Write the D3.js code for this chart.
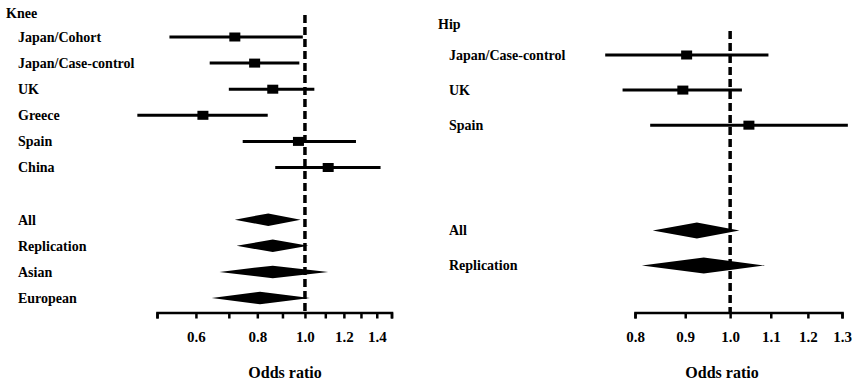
<!DOCTYPE html>
<html>
<head>
<meta charset="utf-8">
<script src="https://cdn.jsdelivr.net/npm/d3@7"></script>
<style>
  body { margin: 0; background: #fff; }
</style>
</head>
<body>
<svg id="chart" width="852" height="382"></svg>
<script>
// ************************** DATA **************************//
var kneeStudies = ["Japan/Cohort", "Japan/Case-control", "UK", "Greece", "Spain", "China"];
var kneeOR   = [0.72, 0.79, 0.86, 0.62, 0.97, 1.115];
var kneeLow  = [0.53, 0.64, 0.70, 0.456, 0.747, 0.87];
var kneeHigh = [0.99, 0.974, 1.045, 0.84, 1.27, 1.425];

var kneePooled     = ["All", "Replication", "Asian", "European"];
var kneePooledOR   = [0.842, 0.86, 0.86, 0.81];
var kneePooledLow  = [0.72, 0.726, 0.67, 0.646];
var kneePooledHigh = [0.98, 1.016, 1.115, 1.024];

var kneeTicks = [0.5, 0.6, 0.7, 0.8, 0.9, 1.0, 1.1, 1.2, 1.3, 1.4, 1.5];
var kneeTickLabels = ["0.6", "0.8", "1.0", "1.2", "1.4"];

var hipStudies = ["Japan/Case-control", "UK", "Spain"];
var hipOR   = [0.903, 0.895, 1.045];
var hipLow  = [0.746, 0.777, 0.829];
var hipHigh = [1.094, 1.028, 1.318];

var hipPooled     = ["All", "Replication"];
var hipPooledOR   = [0.925, 0.94];
var hipPooledLow  = [0.834, 0.813];
var hipPooledHigh = [1.022, 1.085];

var hipTicks = [0.8, 0.9, 1.0, 1.1, 1.2, 1.3];
var hipTickLabels = ["0.8", "0.9", "1.0", "1.1", "1.2", "1.3"];

// ************************** DRAW **************************//
var FONT = "Liberation Serif";
var svg = d3.select("#chart");
svg.append("rect").attr("width", 852).attr("height", 382).attr("fill", "#fff");

var axisY = 312.5;

function label(sel) {
  return sel.attr("font-family", FONT).attr("font-weight", "bold").attr("fill", "#000");
}

function drawPanel(p) {
  var g = svg.append("g");

  var x = d3.scaleLog().domain(p.domain).range(p.xRange);
  var y = d3.scaleLinear().domain([0, p.lastRow]).range(p.yRange);

  g.append("text")
    .attr("x", p.titleX).attr("y", p.titleY).attr("dy", "0.35em")
    .attr("font-size", 14)
    .call(label)
    .text(p.title);

  var studies = p.studies.map(function(name, i) {
    return {name: name, or: p.or[i], lo: p.lo[i], hi: p.hi[i], row: i};
  });
  var pooled = p.pooled.map(function(name, i) {
    return {name: name, or: p.pooledOR[i], lo: p.pooledLo[i], hi: p.pooledHi[i], row: i + p.pooledStart};
  });

  g.selectAll(".lab")
    .data(studies.concat(pooled))
    .join("text")
    .attr("x", p.labelX)
    .attr("y", d => y(d.row))
    .attr("dy", "0.35em")
    .attr("font-size", 14)
    .call(label)
    .text(d => d.name);

  g.selectAll(".ci")
    .data(studies)
    .join("line")
    .attr("x1", d => x(d.lo)).attr("x2", d => x(d.hi))
    .attr("y1", d => y(d.row)).attr("y2", d => y(d.row))
    .attr("stroke", "#000").attr("stroke-width", 3);

  g.selectAll(".sq")
    .data(studies)
    .join("rect")
    .attr("x", d => x(d.or) - 5.5).attr("y", d => y(d.row) - 4.5)
    .attr("width", 11).attr("height", 9)
    .attr("fill", "#000");

  g.selectAll(".dm")
    .data(pooled)
    .join("path")
    .attr("d", function(d) {
      var cy = y(d.row), h = p.diamondH / 2;
      return "M" + x(d.lo) + "," + cy + "L" + x(d.or) + "," + (cy - h) +
             "L" + x(d.hi) + "," + cy + "L" + x(d.or) + "," + (cy + h) + "Z";
    })
    .attr("fill", "#000");

  // reference line at OR = 1
  g.append("line")
    .attr("x1", x(1)).attr("x2", x(1))
    .attr("y1", p.refTop).attr("y2", axisY)
    .attr("stroke", "#000").attr("stroke-width", 3.5)
    .attr("stroke-dasharray", "8,4");

  // axis
  var fmt = d3.format(".1f");
  var axis = g.append("g")
    .attr("transform", "translate(0," + axisY + ")")
    .call(d3.axisBottom(x).tickValues(p.ticks).tickSize(6).tickSizeOuter(6).tickPadding(13)
      .tickFormat(d => p.tickLabels.indexOf(fmt(d)) >= 0 ? fmt(d) : ""));
  axis.attr("font-family", FONT).attr("font-size", 15);
  axis.select(".domain").attr("stroke-width", 2.5);
  axis.selectAll(".tick line").attr("stroke-width", 2.5);
  axis.selectAll(".tick text").call(label);

  g.append("text")
    .attr("x", p.axisTitleX).attr("y", 378)
    .attr("text-anchor", "middle")
    .attr("font-size", 16)
    .call(label)
    .text("Odds ratio");
}

drawPanel({
  title: "Knee", titleX: 6, titleY: 13, labelX: 18,
  studies: kneeStudies, or: kneeOR, lo: kneeLow, hi: kneeHigh,
  pooled: kneePooled, pooledOR: kneePooledOR, pooledLo: kneePooledLow, pooledHi: kneePooledHigh,
  pooledStart: 7, lastRow: 10, yRange: [37, 298],
  domain: [0.5, 1.5], xRange: [157, 391.5],
  ticks: kneeTicks, tickLabels: kneeTickLabels,
  diamondH: 12.5, refTop: 15, axisTitleX: 285
});

drawPanel({
  title: "Hip", titleX: 438, titleY: 24, labelX: 449,
  studies: hipStudies, or: hipOR, lo: hipLow, hi: hipHigh,
  pooled: hipPooled, pooledOR: hipPooledOR, pooledLo: hipPooledLow, pooledHi: hipPooledHigh,
  pooledStart: 5, lastRow: 6, yRange: [55, 265.5],
  domain: [0.8, 1.3], xRange: [635, 842],
  ticks: hipTicks, tickLabels: hipTickLabels,
  diamondH: 16, refTop: 31, axisTitleX: 722
});
</script>
</body>
</html>
